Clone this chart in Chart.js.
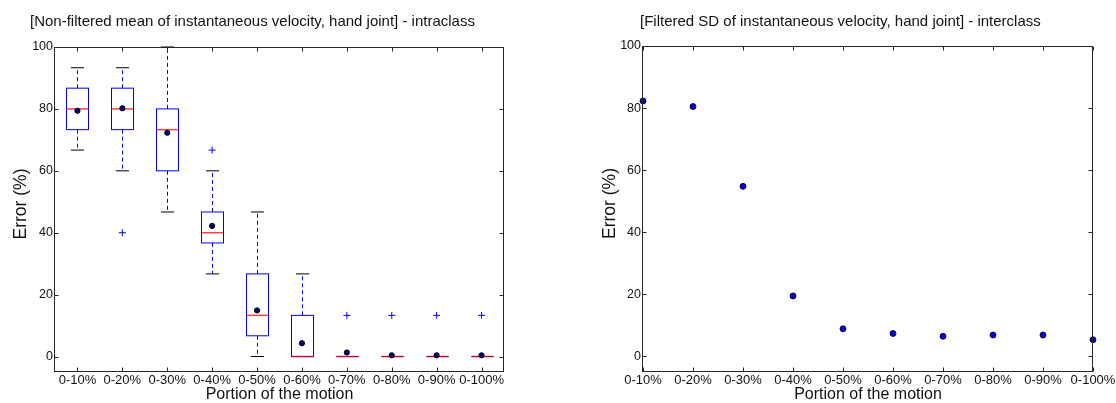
<!DOCTYPE html>
<html><head><meta charset="utf-8">
<script src="https://cdn.jsdelivr.net/npm/chart.js@4/dist/chart.umd.min.js"></script>
<style>
html,body{margin:0;padding:0;background:#fff;width:1116px;height:403px;overflow:hidden;}
.wrap{position:absolute;top:0;width:558px;height:403px;}
.title{position:absolute;top:12px;font:15px "Liberation Sans",Arial,sans-serif;color:#111;white-space:nowrap;line-height:18px;}
</style></head><body>
<div class="wrap" style="left:0"><canvas id="c1" width="558" height="403"></canvas></div>
<div class="wrap" style="left:558px"><canvas id="c2" width="558" height="403"></canvas></div>
<div class="title" id="t1" style="left:30px">[Non-filtered mean of instantaneous velocity, hand joint] - intraclass</div>
<div class="title" id="t2" style="left:640px">[Filtered SD of instantaneous velocity, hand joint] - interclass</div>
<script>
const categories = ['0-10%','0-20%','0-30%','0-40%','0-50%','0-60%','0-70%','0-80%','0-90%','0-100%'];
// intraclass box plot (non-filtered mean)
const whiskerLow  = [66.7, 60.0, 46.7, 26.7, 0.0, 0.0, 0, 0, 0, 0];
const q1          = [73.3, 73.3, 60.0, 36.7, 6.7, 0.0, 0, 0, 0, 0];
const medians     = [80.0, 80.0, 73.3, 40.0, 13.3, 0.0, 0, 0, 0, 0];
const q3          = [86.7, 86.7, 80.0, 46.7, 26.7, 13.3, 0, 0, 0, 0];
const whiskerHigh = [93.3, 93.3, 100.0, 60.0, 46.7, 26.7, 0, 0, 0, 0];
const intraMeans  = [79.4, 80.2, 72.3, 42.2, 14.9, 4.3, 1.3, 0.4, 0.4, 0.4];
const outliers    = [null, 40.0, null, 66.7, null, null, 13.3, 13.3, 13.3, 13.3];
// interclass (filtered SD)
const interError  = [82.3, 80.5, 54.8, 19.5, 8.9, 7.4, 6.5, 6.9, 6.9, 5.4];
const yTicks = [0, 20, 40, 60, 80, 100];

const FONT = '"Liberation Sans", Arial, sans-serif';

function seg(ctx, x1, y1, x2, y2){ ctx.beginPath(); ctx.moveTo(x1,y1); ctx.lineTo(x2,y2); ctx.stroke(); }

const boxPlugin = {
  id: 'boxes',
  beforeDatasetsDraw(chart){
    if (!chart.options.plugins.boxes || !chart.options.plugins.boxes.on) return;
    const {ctx, scales:{x, y}} = chart;
    const half = (x.getPixelForValue(1) - x.getPixelForValue(0)) * 0.245;
    const cap = half * 0.6;
    ctx.save();
    ctx.lineWidth = 1;
    categories.forEach((c, i) => {
      const cx = Math.round(x.getPixelForValue(i)) + 0.5;
      const yLo = y.getPixelForValue(whiskerLow[i]);
      const yQ1 = y.getPixelForValue(q1[i]);
      const yMd = y.getPixelForValue(medians[i]);
      const yQ3 = y.getPixelForValue(q3[i]);
      const yHi = y.getPixelForValue(whiskerHigh[i]);
      // whiskers
      ctx.strokeStyle = '#0000ff';
      ctx.setLineDash([4, 3]);
      if (yHi < yQ3) seg(ctx, cx, yQ3, cx, yHi);
      if (yLo > yQ1) seg(ctx, cx, yQ1, cx, yLo);
      ctx.setLineDash([]);
      // caps
      ctx.strokeStyle = '#000';
      seg(ctx, cx - cap, yHi, cx + cap, yHi);
      seg(ctx, cx - cap, yLo, cx + cap, yLo);
      // box
      ctx.strokeStyle = '#0000ff';
      ctx.strokeRect(cx - half, yQ3, 2*half, yQ1 - yQ3);
      // median
      ctx.strokeStyle = 'rgba(255,0,0,0.75)';
      ctx.lineWidth = 1.5;
      seg(ctx, cx - half, yMd, cx + half, yMd);
      ctx.lineWidth = 1;
    });
    ctx.restore();
  }
};

const framePlugin = {
  id: 'frame',
  afterLayout(chart){
    const y = chart.scales.y;
    const shift = chart.options.plugins.frame.yTitleShift || 0;
    if (!y._origDrawTitle) {
      y._origDrawTitle = y.drawTitle;
      y.drawTitle = function(){
        const ctx = this.ctx;
        ctx.save(); ctx.translate(0, shift); y._origDrawTitle.call(this); ctx.restore();
      };
    }
  },
  afterDatasetsDraw(chart){
    const {ctx, chartArea:a, scales:{x, y}} = chart;
    ctx.save();
    ctx.strokeStyle = '#262626';
    ctx.lineWidth = 1;
    const L = Math.round(a.left) - 0.5, R = Math.round(a.right) - 0.5;
    const T = Math.round(a.top) + 0.5, B = Math.round(a.bottom) - 0.5;
    ctx.strokeRect(L, T, R - L, B - T);
    const tl = 4;
    yTicks.forEach(v => {
      const py = Math.round(y.getPixelForValue(v)) + 0.5;
      seg(ctx, L, py, L + tl, py);
      seg(ctx, R, py, R - tl, py);
    });
    categories.forEach((c, i) => {
      const px = Math.round(x.getPixelForValue(i)) + 0.5;
      seg(ctx, px, T, px, T + tl);
      seg(ctx, px, B, px, B - tl);
    });
    ctx.restore();
  }
};

function makeOptions(cfg){
  return {
    responsive: false,
    animation: false,
    events: [],
    layout: { padding: { left: 0, right: cfg.padRight, top: cfg.padTop, bottom: 0 } },
    plugins: { legend: { display: false }, tooltip: { enabled: false }, boxes: { on: cfg.boxes }, frame: { yTitleShift: -5.5 } },
    scales: {
      x: {
        type: 'category',
        offset: cfg.offset,
        grid: { display: false, drawTicks: false },
        border: { display: false },
        ticks: { autoSkip: false, maxRotation: 0, minRotation: 0, padding: 1, color: '#111', font: { family: FONT, size: 13 } },
        title: { display: true, text: 'Portion of the motion', color: '#111', font: { family: FONT, size: 16, lineHeight: 1 }, padding: 0 },
        afterFit(s){ s.height = 31; s.paddingLeft = 0; s.paddingRight = 0; }
      },
      y: {
        type: 'linear',
        min: -5, max: 100,
        grid: { display: false, drawTicks: false },
        border: { display: false },
        afterBuildTicks(s){ s.ticks = yTicks.map(v => ({ value: v })); },
        ticks: { padding: 2, color: '#111', font: { family: FONT, size: 12.5 } },
        title: { display: true, text: 'Error (%)', color: '#111', font: { family: FONT, size: 17.5, lineHeight: 1 }, padding: { top: cfg.yTitlePad, bottom: 0 } },
        afterFit(s){ s.width = cfg.yWidth; s.paddingTop = 0; s.paddingBottom = 0; }
      }
    }
  };
}

new Chart(document.getElementById('c1'), {
  type: 'line',
  data: {
    labels: categories,
    datasets: [
      { label: 'Mean', data: intraMeans, showLine: false, pointRadius: 2.6, pointBackgroundColor: '#00007a', pointBorderColor: '#000', pointBorderWidth: 1 },
      { label: 'Outliers', data: outliers, showLine: false, pointStyle: 'cross', pointRadius: 3.5, pointBorderColor: '#0000ff', pointBorderWidth: 1 }
    ]
  },
  options: makeOptions({ padRight: 54, padTop: 47, offset: true, boxes: true, yWidth: 55, yTitlePad: 12.5 }),
  plugins: [boxPlugin, framePlugin]
});

new Chart(document.getElementById('c2'), {
  type: 'line',
  data: {
    labels: categories,
    datasets: [
      { label: 'Error', data: interError, showLine: false, pointRadius: 3, pointBackgroundColor: '#0000ee', pointBorderColor: '#000', pointBorderWidth: 0.8 }
    ]
  },
  options: makeOptions({ padRight: 23, padTop: 46, offset: false, boxes: false, yWidth: 85, yTitlePad: 43 }),
  plugins: [boxPlugin, framePlugin]
});
</script>
</body></html>
